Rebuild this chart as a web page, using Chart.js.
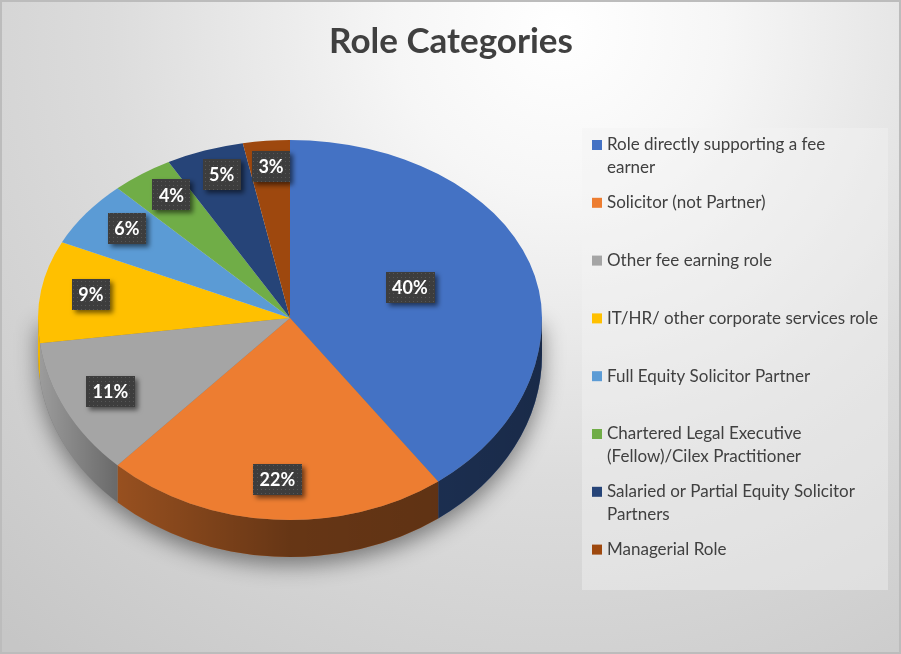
<!DOCTYPE html>
<html><head><meta charset="utf-8">
<script src="https://cdn.jsdelivr.net/npm/chart.js@4.4.1/dist/chart.umd.min.js"></script>
<style>html,body{margin:0;padding:0;background:#fff;overflow:hidden}canvas{display:block}</style>
</head><body>
<canvas id="c" width="901" height="654" style="width:901px;height:654px"></canvas>
<script>
const titleText = 'Role Categories';
const categories = [
  ['Role directly supporting a fee', 'earner'],
  ['Solicitor (not Partner)'],
  ['Other fee earning role'],
  ['IT/HR/ other corporate services role'],
  ['Full Equity Solicitor Partner'],
  ['Chartered Legal Executive', '(Fellow)/Cilex Practitioner'],
  ['Salaried or Partial Equity Solicitor', 'Partners'],
  ['Managerial Role']
];
const shares = [40, 22, 11, 9, 6, 4, 5, 3];
const sliceColors = ['#4472C4', '#ED7D31', '#A5A5A5', '#FFC000', '#5B9BD5', '#70AD47', '#264478', '#9E480E'];

const TILT_BACK = 178 / 252;   // far half of the top face (perspective)
const TILT_FRONT = 202 / 252;  // near half of the top face
const DEPTH = 37;              // thickness of the pie side
const FONT = 'Lato, "Open Sans", sans-serif';

function makePattern(ctx) {
  const p = document.createElement('canvas');
  p.width = 4; p.height = 4;
  const g = p.getContext('2d');
  g.fillStyle = '#3d3d3d'; g.fillRect(0, 0, 4, 4);
  g.fillStyle = '#565656'; g.fillRect(1, 1, 1, 1);
  return ctx.createPattern(p, 'repeat');
}

function squash(ctx, cy, k) {
  ctx.translate(0, cy);
  ctx.scale(1, k);
  ctx.translate(0, -cy);
}

const backgroundPlugin = {
  id: 'bg',
  beforeDraw(chart) {
    const ctx = chart.ctx, W = chart.width, H = chart.height;
    ctx.save();
    const g = ctx.createRadialGradient(560, 30, 0, 560, 30, 820);
    g.addColorStop(0, '#ffffff');
    g.addColorStop(0.2, '#f6f6f6');
    g.addColorStop(0.55, '#dcdcdc');
    g.addColorStop(1, '#c6c6c6');
    ctx.fillStyle = g;
    ctx.fillRect(0, 0, W, H);
    ctx.strokeStyle = '#bcbcbc';
    ctx.lineWidth = 2;
    ctx.strokeRect(1, 1, W - 2, H - 2);
    ctx.fillStyle = '#404040';
    ctx.font = 'bold 35px ' + FONT;
    ctx.textAlign = 'center';
    ctx.textBaseline = 'alphabetic';
    ctx.fillText(titleText, 451, 53);
    ctx.restore();
  }
};

const pie3dPlugin = {
  id: 'pie3d',
  beforeDatasetsDraw(chart) {
    const ctx = chart.ctx;
    const meta = chart.getDatasetMeta(0);
    const a0 = meta.data[0];
    const cx = a0.x, cy = a0.y, R = a0.outerRadius, ry = R * TILT_FRONT;
    // soft shadow under the pie
    ctx.save();
    ctx.shadowColor = 'rgba(0,0,0,0.45)';
    ctx.shadowBlur = 22;
    ctx.shadowOffsetY = 8;
    ctx.beginPath();
    ctx.ellipse(cx, cy + DEPTH, R, ry, 0, 0, Math.PI);
    ctx.lineTo(cx - R, cy);
    ctx.lineTo(cx + R, cy);
    ctx.closePath();
    ctx.fillStyle = '#777';
    ctx.fill();
    ctx.restore();
    // side walls (front half only)
    const shade = ctx.createLinearGradient(cx - R, 0, cx + R, 0);
    shade.addColorStop(0, 'rgba(0,0,0,0.05)');
    shade.addColorStop(0.157, 'rgba(0,0,0,0.36)');
    shade.addColorStop(0.5, 'rgba(0,0,0,0.57)');
    shade.addColorStop(0.82, 'rgba(0,0,0,0.6)');
    shade.addColorStop(1, 'rgba(0,0,0,0.63)');
    ctx.save();
    meta.data.forEach((arc, i) => {
      const a1 = Math.max(arc.startAngle, 0);
      const a2 = Math.min(arc.endAngle, Math.PI);
      if (a2 <= a1) return;
      ctx.beginPath();
      ctx.ellipse(cx, cy, R, ry, 0, a1, a2, false);
      ctx.lineTo(cx + R * Math.cos(a2), cy + ry * Math.sin(a2) + DEPTH);
      ctx.ellipse(cx, cy + DEPTH, R, ry, 0, a2, a1, true);
      ctx.closePath();
      ctx.fillStyle = sliceColors[i];
      ctx.fill();
      ctx.fillStyle = shade;
      ctx.fill();
    });
    ctx.restore();
    // far half of the top face
    ctx.save();
    ctx.beginPath();
    ctx.rect(0, 0, chart.width, cy + 0.5);
    ctx.clip();
    squash(ctx, cy, TILT_BACK);
    meta.controller.draw();
    ctx.restore();
    // near half: Chart.js draws it next
    ctx.save();
    ctx.beginPath();
    ctx.rect(0, cy - 0.5, chart.width, chart.height);
    ctx.clip();
    squash(ctx, cy, TILT_FRONT);
  },
  afterDatasetsDraw(chart) {
    const ctx = chart.ctx;
    ctx.restore();
    const meta = chart.getDatasetMeta(0);
    const total = shares.reduce((a, b) => a + b, 0);
    const pattern = makePattern(ctx);
    meta.data.forEach((arc, i) => {
      const cx = arc.x, cy = arc.y, R = arc.outerRadius;
      const mid = (arc.startAngle + arc.endAngle) / 2;
      const s = Math.sin(mid);
      const f = shares[i] / total > 0.3 ? 0.5 : 0.8;
      const x = cx + Math.cos(mid) * R * f;
      const y = cy + s * R * f * (s < 0 ? TILT_BACK : TILT_FRONT) + (s < 0 ? 10 * s : 0);
      const txt = Math.round(shares[i] / total * 100) + '%';
      ctx.save();
      ctx.font = 'bold 18px ' + FONT;
      const w = ctx.measureText(txt).width + 13, h = 31;
      ctx.shadowColor = 'rgba(0,0,0,0.55)';
      ctx.shadowBlur = 5;
      ctx.shadowOffsetX = 3;
      ctx.shadowOffsetY = 3;
      ctx.fillStyle = pattern;
      ctx.fillRect(Math.round(x - w / 2), Math.round(y - h / 2), Math.round(w), h);
      ctx.shadowColor = 'transparent';
      ctx.fillStyle = '#ffffff';
      ctx.textAlign = 'center';
      ctx.textBaseline = 'middle';
      ctx.fillText(txt, x, y + 1);
      ctx.restore();
    });
  },
  afterDraw(chart) {
    const ctx = chart.ctx;
    ctx.save();
    ctx.fillStyle = 'rgba(242,242,242,0.42)';
    ctx.fillRect(582, 128, 306, 462);
    ctx.font = '17px ' + FONT;
    ctx.textAlign = 'left';
    ctx.textBaseline = 'middle';
    categories.forEach((lines, i) => {
      const y0 = 145 + i * 57.8;
      ctx.fillStyle = sliceColors[i];
      ctx.fillRect(592, y0 - 5, 10, 10);
      ctx.fillStyle = '#404040';
      lines.forEach((ln, j) => ctx.fillText(ln, 607, y0 + j * 23));
    });
    ctx.restore();
  }
};

new Chart(document.getElementById('c'), {
  type: 'pie',
  data: {
    labels: categories,
    datasets: [{
      data: shares,
      backgroundColor: sliceColors,
      borderWidth: 0,
      radius: 252
    }]
  },
  options: {
    responsive: false,
    animation: false,
    events: [],
    layout: { padding: { left: 38, right: 359, top: 66, bottom: 84 } },
    plugins: {
      legend: { display: false },
      title: { display: false },
      tooltip: { enabled: false }
    }
  },
  plugins: [backgroundPlugin, pie3dPlugin]
});
</script>
</body></html>
